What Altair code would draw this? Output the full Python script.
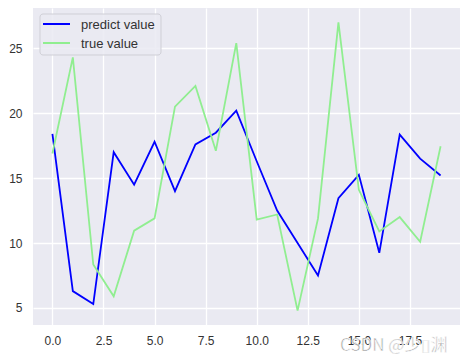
import altair as alt
import pandas as pd

x_idx = list(range(20))
predict = [18.4, 6.3, 5.3, 17.0, 14.5, 17.8, 14.0, 17.6, 18.5, 20.2,
           16.3, 12.5, 10.0, 7.5, 13.45, 15.25, 9.25, 18.35, 16.5, 15.2]
true_v = [16.9, 24.3, 8.35, 5.9, 10.95, 11.9, 20.5, 22.1, 17.1, 25.4,
          11.8, 12.2, 4.8, 11.9, 27.0, 14.1, 10.9, 12.0, 10.1, 17.45]
series_names = ["predict value", "true value"]
series_colors = ["#0000FF", "#90EE90"]
x_ticks = [0, 2.5, 5, 7.5, 10, 12.5, 15, 17.5]
y_ticks = [5, 10, 15, 20, 25]

rows = []
for i, xv in enumerate(x_idx):
    rows.append({"x": xv, "value": predict[i], "series": series_names[0]})
for i, xv in enumerate(x_idx):
    rows.append({"x": xv, "value": true_v[i], "series": series_names[1]})
df = pd.DataFrame(rows)

lines = alt.Chart(df).mark_line(strokeWidth=1.8).encode(
    x=alt.X("x:Q", scale=alt.Scale(domain=[-0.95, 19.95], nice=False, zero=False),
            axis=alt.Axis(values=x_ticks, format=".1f", title=None)),
    y=alt.Y("value:Q", scale=alt.Scale(domain=[3.69, 28.1], nice=False, zero=False),
            axis=alt.Axis(values=y_ticks, title=None)),
    color=alt.Color("series:N",
                    scale=alt.Scale(domain=series_names, range=series_colors),
                    legend=None),
    detail="series:N",
    order="x:Q",
)

# manual legend box (matplotlib-style, inside the top-left of the plot)
one = pd.DataFrame({"k": [0]})
legend_box = alt.Chart(one).mark_rect(
    fill="#EAEAF2", fillOpacity=0.85, stroke="#CFCFD6", strokeWidth=1, cornerRadius=3
).encode(x=alt.value(7), x2=alt.value(128), y=alt.value(6), y2=alt.value(47))

legend_layers = [legend_box]
for i, (name, col) in enumerate(zip(series_names, series_colors)):
    ly = 16 + 19 * i
    legend_layers.append(
        alt.Chart(one).mark_rule(color=col, strokeWidth=2).encode(
            x=alt.value(10), x2=alt.value(37), y=alt.value(ly)))
    legend_layers.append(
        alt.Chart(pd.DataFrame({"t": [name]})).mark_text(
            align="left", baseline="middle", fontSize=13, font="Liberation Sans",
            color="#333333").encode(text="t:N", x=alt.value(48), y=alt.value(ly + 0.5)))

wm = alt.Chart(pd.DataFrame({"t": ["CSDN @少▯渊"]})).mark_text(
    align="left", baseline="middle", fontSize=17, font="Noto Sans CJK SC",
    color="#9a9a9a", stroke="white", strokeWidth=0.6
).encode(text="t:N", x=alt.value(307), y=alt.value(338))

chart = alt.layer(lines, *legend_layers, wm).properties(
    width=427, height=317,
    autosize=alt.AutoSizeParams(type="none"),
    padding={"left": 25, "top": 0, "right": 4, "bottom": 30},
).configure_view(fill="#EAEAF2", stroke=None).configure_axis(
    grid=True, gridColor="white", gridWidth=1.3, domain=False, ticks=False,
    labelFontSize=12, labelColor="#333333", labelFont="Liberation Sans", labelPadding=10
).configure_axisY(labelPadding=11)

chart.save("out.html", embed_options={"renderer": "svg", "actions": False})
